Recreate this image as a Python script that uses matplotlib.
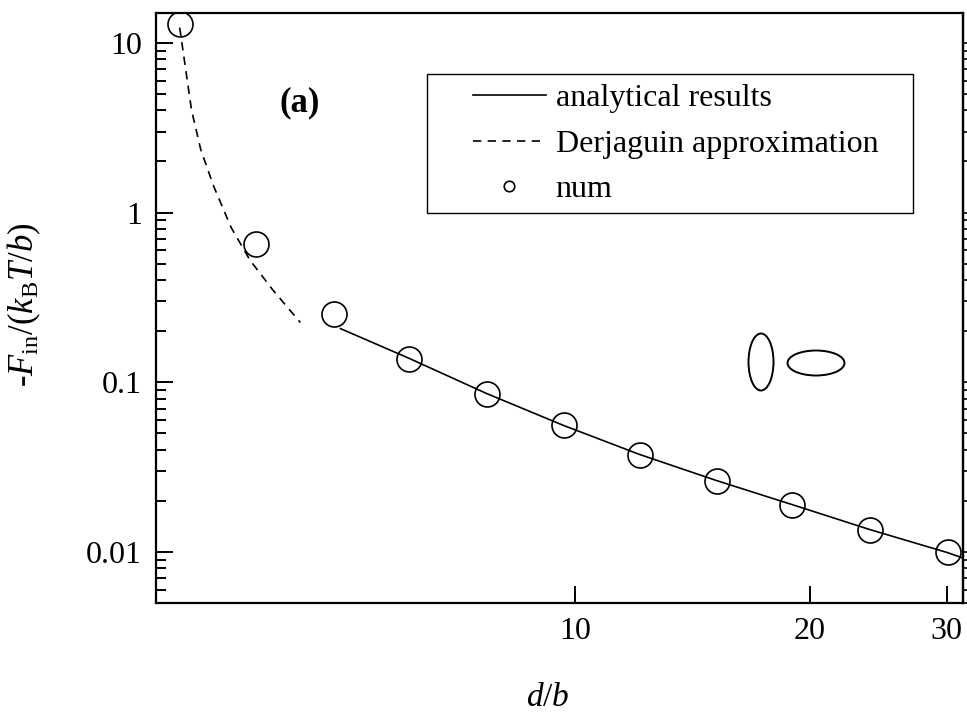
import numpy as np
import matplotlib
matplotlib.use("Agg")
import matplotlib.pyplot as plt
from matplotlib.patches import Ellipse, Rectangle
from matplotlib.ticker import FixedLocator, FixedFormatter, NullLocator, LogLocator

plt.rcParams['font.family'] = ['Liberation Serif', 'DejaVu Serif']
plt.rcParams['mathtext.fontset'] = 'custom'
plt.rcParams['mathtext.rm'] = 'Liberation Serif'
plt.rcParams['mathtext.it'] = 'Liberation Serif:italic'
plt.rcParams['mathtext.bf'] = 'Liberation Serif:bold'

# numerical points
num_d = [3.10, 3.89, 4.89, 6.12, 7.69, 9.66, 12.1, 15.2, 19.0, 23.9, 30.1]
num_F = [12.9, 0.656, 0.254, 0.138, 0.0858, 0.0556, 0.0375, 0.0263, 0.0190, 0.01355, 0.0100]

# analytical results (solid)
ana_d = [4.99, 6.12, 7.69, 9.66, 12.1, 15.2, 19.0, 23.9, 30.1, 31.5]
ana_F = [0.207, 0.138, 0.0858, 0.0556, 0.0375, 0.0263, 0.0190, 0.01355, 0.0099, 0.0092]

# Derjaguin approximation (dashed)
der_d = [3.10, 3.21, 3.30, 3.43, 3.61, 3.82, 4.09, 4.43]
der_F = [12.3, 4.03, 2.34, 1.42, 0.816, 0.521, 0.347, 0.225]

xticks = [10, 20, 30]
yticks = [0.01, 0.1, 1, 10]
ytick_labels = ['0.01', '0.1', '1', '10']

fs = 23
fig = plt.figure(figsize=(9.67, 7.17), dpi=100)
ax = fig.add_axes([156/967, 1-603/717, 807/967, 590/717])
ax.set_xscale('log')
ax.set_yscale('log')

ax.plot(ana_d, ana_F, color='black', lw=1.2, label='analytical results')
ax.plot(der_d, der_F, color='black', lw=1.2, dashes=(5.0, 3.8), label='Derjaguin approximation')
ax.plot(num_d, num_F, ls='none', marker='o', ms=18, mfc='none', mec='black', mew=1.2,
        label='num')

ax.set_xlim(2.89, 31.5)
ax.set_ylim(0.005, 15)

ax.xaxis.set_major_locator(FixedLocator(xticks))
ax.xaxis.set_major_formatter(FixedFormatter([str(t) for t in xticks]))
ax.xaxis.set_minor_locator(NullLocator())
ax.yaxis.set_major_locator(FixedLocator(yticks))
ax.yaxis.set_major_formatter(FixedFormatter(ytick_labels))
ax.yaxis.set_minor_locator(LogLocator(base=10, subs=np.arange(2, 10)))

ax.tick_params(which='major', direction='in', length=12, width=1.4, labelsize=fs, pad=10)
ax.tick_params(which='minor', direction='in', length=7, width=1.4)
ax.tick_params(axis='y', which='both', pad=10)
for s in ax.spines.values():
    s.set_linewidth(1.6)

sec = ax.secondary_yaxis('right')
sec.tick_params(which='both', direction='out', labelright=False, length=5, width=1.2)
sec.spines['right'].set_linewidth(1.6)

ax.set_xlabel(r'$d/b$', fontsize=fs + 1)
ax.xaxis.set_label_coords(0.486, -0.134)
ax.set_ylabel(r'-$F_{\mathrm{in}}/(k_{\mathrm{B}}T/b)$', fontsize=fs + 2)
ax.yaxis.set_label_coords(-0.14, 0.505)

ax.text(300/967, 1-103/717, '(a)', transform=fig.transFigure, fontsize=fs + 2,
        fontweight='bold', ha='center', va='center')

# legend box
fig.add_artist(Rectangle((427/967, 1-213/717), 486/967, 139/717, transform=fig.transFigure,
                         fill=False, ec='black', lw=1.0))
ax.legend(loc='upper left', bbox_to_anchor=(473/967, 1-84/717), bbox_transform=fig.transFigure,
          frameon=False, fontsize=fs, borderpad=0, borderaxespad=0, handlelength=2.27,
          handletextpad=0.32, labelspacing=0.5, markerscale=0.42)

# particle sketches
fig.add_artist(Ellipse((761/967, 1-362/717), 25/967, 57/717, transform=fig.transFigure,
                       fill=False, ec='black', lw=1.4))
fig.add_artist(Ellipse((816/967, 1-363/717), 57/967, 25/717, transform=fig.transFigure,
                       fill=False, ec='black', lw=1.4))

fig.savefig('out.png', dpi=100)
